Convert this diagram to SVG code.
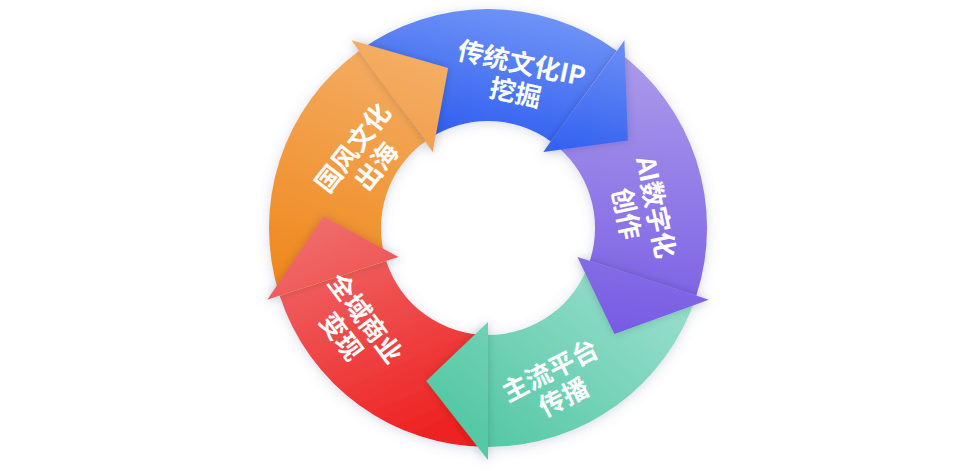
<svg xmlns="http://www.w3.org/2000/svg" width="963" height="471" viewBox="0 0 963 471">
<style>
.lbl{font-family:"Noto Sans CJK SC","Liberation Sans",sans-serif;font-weight:bold;font-size:26px;fill:#fff;text-anchor:middle;dominant-baseline:central}
</style>
<defs>
<filter id="sh" x="-20%" y="-20%" width="140%" height="140%"><feDropShadow dx="0" dy="2" stdDeviation="6" flood-color="#6070a0" flood-opacity="0.25"/></filter>
<filter id="hs" x="-30%" y="-30%" width="160%" height="160%"><feDropShadow dx="0" dy="0" stdDeviation="4" flood-color="#000" flood-opacity="0.18"/></filter>
<linearGradient id="gb" gradientUnits="userSpaceOnUse" x1="560" y1="10" x2="530" y2="160"><stop offset="0" stop-color="#7396f6"/><stop offset="1" stop-color="#2d5cf0"/></linearGradient>
<linearGradient id="gp" gradientUnits="userSpaceOnUse" x1="660" y1="60" x2="640" y2="330"><stop offset="0" stop-color="#aa9aea"/><stop offset="1" stop-color="#785ce4"/></linearGradient>
<linearGradient id="gg" gradientUnits="userSpaceOnUse" x1="630" y1="290" x2="500" y2="455"><stop offset="0" stop-color="#92dcc9"/><stop offset="1" stop-color="#55c8a5"/></linearGradient>
<linearGradient id="gr" gradientUnits="userSpaceOnUse" x1="320" y1="215" x2="420" y2="445"><stop offset="0" stop-color="#ef6e6e"/><stop offset="1" stop-color="#ee2020"/></linearGradient>
<linearGradient id="go" gradientUnits="userSpaceOnUse" x1="400" y1="30" x2="300" y2="290"><stop offset="0" stop-color="#f4b06a"/><stop offset="1" stop-color="#ef881c"/></linearGradient>
</defs>
<g filter="url(#sh)">
<g id="bodies">
<path id="body-blue" fill="url(#gb)" d="M359.3,50.8 A219,219 0 0 1 616.7,50.8 L550.9,141.4 A107,107 0 0 0 425.1,141.4 Z"/>
<path id="body-purple" fill="url(#gp)" d="M616.7,50.8 A219,219 0 0 1 696.3,295.7 L589.8,261.1 A107,107 0 0 0 550.9,141.4 Z"/>
<path id="body-green" fill="url(#gg)" d="M696.3,295.7 A219,219 0 0 1 488,447 L488,335 A107,107 0 0 0 589.8,261.1 Z"/>
<path id="body-red" fill="url(#gr)" d="M488,447 A219,219 0 0 1 279.7,295.7 L386.2,261.1 A107,107 0 0 0 488,335 Z"/>
<path id="body-orange" fill="url(#go)" d="M279.7,295.7 A219,219 0 0 1 359.3,50.8 L425.1,141.4 A107,107 0 0 0 386.2,261.1 Z"/>
</g>
<g id="heads">
<path id="head-blue" filter="url(#hs)" fill="url(#gb)" d="M612,58 L624.4,40.3 L627.9,140.6 L543.3,152 L556,134 Z"/>
<path id="head-purple" filter="url(#hs)" fill="url(#gp)" d="M686,292 L708.7,299.7 L614.4,334.1 L577.4,257 L600,264 Z"/>
<path id="head-green" filter="url(#hs)" fill="url(#gg)" d="M488,440 L488,460 L426.2,381 L488,322 L488,340 Z"/>
<path id="head-red" filter="url(#hs)" fill="url(#gr)" d="M290,292 L267.3,299.7 L323.4,216.5 L398.6,257 L376,264 Z"/>
<path id="head-orange" filter="url(#hs)" fill="url(#go)" d="M364,58 L351.6,40.3 L448.1,67.9 L432.7,152 L420,134 Z"/>
</g>
</g>
<g id="labels">
<g id="n-blue" transform="translate(519,76) rotate(12)"><text class="lbl" x="0" y="-15">传统文化IP</text><text class="lbl" x="0" y="15">挖掘</text></g>
<g id="n-purple" transform="translate(643,210) rotate(78)"><text class="lbl" x="0" y="-15">AI数字化</text><text class="lbl" x="0" y="15">创作</text></g>
<g id="n-green" transform="translate(556,382) rotate(-27)"><text class="lbl" x="0" y="-15">主流平台</text><text class="lbl" x="0" y="15">传播</text></g>
<g id="n-red" transform="translate(355,326) rotate(53)"><text class="lbl" x="0" y="-15">全域商业</text><text class="lbl" x="0" y="15">变现</text></g>
<g id="n-orange" transform="translate(363,156) rotate(-52)"><text class="lbl" x="0" y="-15">国风文化</text><text class="lbl" x="0" y="15">出海</text></g>
</g>
</svg>
